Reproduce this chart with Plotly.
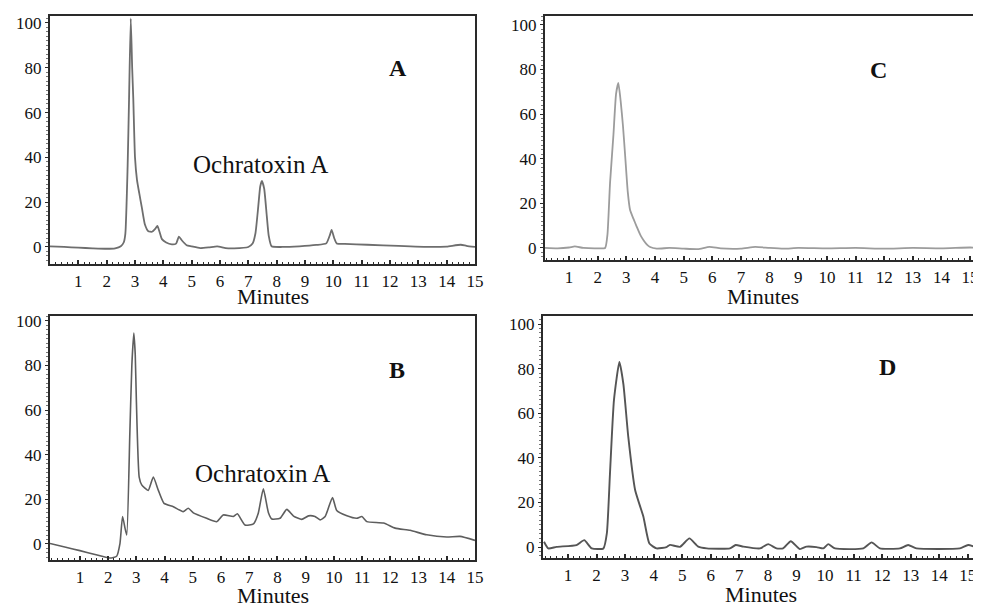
import plotly.graph_objects as go

# ---------------- data (retention time in minutes, relative response %) ----------------
a_time = [0, 0.5, 1.0, 1.5, 2.0, 2.3, 2.5, 2.6, 2.66, 2.74, 2.79, 2.85, 2.9, 2.94, 3.0, 3.07,
          3.15, 3.25, 3.35, 3.47, 3.6, 3.72, 3.79, 3.86, 3.95, 4.1, 4.3, 4.45, 4.55, 4.65,
          4.82, 5.0, 5.3, 5.6, 5.9, 6.2, 6.5, 7.0, 7.15, 7.25, 7.35, 7.42, 7.48, 7.56, 7.65,
          7.72, 7.82, 8.2, 8.8, 9.4, 9.75, 9.87, 9.94, 10.03, 10.12, 10.4, 11.2, 12.3, 13.5,
          14.0, 14.5, 14.7, 15.0]
a_signal = [0.3, 0.0, -0.3, -0.6, -0.8, -0.6, 0.3, 2, 6, 36, 66, 102, 80, 66, 40, 30,
            24, 17, 10, 7, 6.8, 8.2, 9.4, 7, 3.5, 2, 1.2, 1.5, 4.6, 3,
            0.8, 0.3, -0.5, -0.2, 0.3, -0.5, -0.6, 0, 1.5, 6, 18, 27, 29.5, 26, 14,
            5, 0.3, 0, 0.3, 0.9, 1.6, 5, 7.6, 4, 1.6, 1.4, 1.0, 0.5, 0,
            0.2, 1.0, 0.5, 0]

b_time = [-0.06, 0.5, 1.0, 1.5, 2.06, 2.3, 2.42, 2.51, 2.6, 2.66, 2.77, 2.84, 2.91, 2.96, 3.0,
          3.1, 3.19, 3.42, 3.6, 3.78, 3.98, 4.31, 4.66, 4.84, 5.02, 5.49, 5.85, 6.08, 6.44,
          6.58, 6.85, 7.15, 7.32, 7.5, 7.68, 7.8, 8.09, 8.33, 8.57, 8.86, 9.1, 9.33, 9.51,
          9.69, 9.95, 10.1, 10.46, 10.81, 10.99, 11.17, 11.76, 12.17, 12.7, 13.29, 14.0,
          14.47, 15.0]
b_signal = [0.2, -1.5, -3.0, -4.6, -6.3, -5.5, 0.3, 12.3, 7, 4, 50, 80, 94.5, 85, 64.6,
            30, 26.5, 24, 30, 24, 18.2, 16.7, 14.5, 16, 13.9, 11.5, 10, 13, 12.3,
            13.5, 8.5, 9, 13.8, 24.7, 14, 11.2, 11.5, 15.5, 12.5, 11, 12.6, 12.3, 10.8,
            12.3, 20.8, 15, 12.6, 11.5, 12.3, 10, 9.4, 7.1, 6.1, 4.1, 3.1,
            3.4, 1.6]

c_time = [0.16, 0.6, 1.0, 1.2, 1.5, 2.0, 2.26, 2.34, 2.43, 2.55, 2.64, 2.72, 2.8, 2.88, 2.96,
          3.05, 3.13, 3.25, 3.36, 3.5, 3.6, 3.72, 3.83, 4.06, 4.5, 5.0, 5.5, 5.9, 6.3, 7.0,
          7.5, 8.0, 8.5, 9.0, 10.0, 11.0, 12.0, 13.0, 14.0, 15.0, 15.4]
c_signal = [0, -0.2, 0.2, 0.7, 0, -0.2, 0, 6, 29, 51, 69, 74, 66, 55, 41,
            25, 17, 13, 9.6, 5.5, 3.5, 1.5, 0.4, -0.3, 0, -0.3, -0.5, 0.5, -0.2, -0.3,
            0.5, 0, -0.3, 0, -0.2, 0, -0.3, 0, -0.2, 0.2, 0]

d_time = [0.16, 0.31, 0.6, 1.3, 1.57, 1.83, 2.24, 2.36, 2.47, 2.61, 2.8, 2.94, 3.11, 3.35,
          3.64, 3.85, 4.1, 4.45, 4.57, 4.92, 5.25, 5.56, 5.86, 6.67, 6.87, 7.14, 7.72, 8.01,
          8.3, 8.53, 8.8, 9.12, 9.35, 9.7, 9.94, 10.11, 10.35, 11.34, 11.63, 11.92, 12.62,
          12.91, 13.2, 14.72, 15.01, 15.4]
d_signal = [2.4, -0.6, 0.1, 0.9, 3.1, -0.6, -0.6, 6.1, 33, 66, 83, 73, 49.5, 25.6,
            13.6, 1.6, -0.6, 0, 1, 0.1, 3.9, 0.2, -0.6, -0.6, 0.9, 0.2, -0.6, 1.3,
            -0.6, -0.6, 2.6, -0.9, 0.2, 0, -0.6, 1.3, -0.6, -0.6, 2.1, -0.6, -0.6,
            0.9, -0.6, -0.6, 0.9, -0.6]

minute_ticks = list(range(1, 16))
response_ticks = [0, 20, 40, 60, 80, 100]
panel_names = ["A", "B", "C", "D"]
peak_label = "Ochratoxin A"
x_title = "Minutes"

# ---------------- figure ----------------
# the page body has an 8 px margin, so the figure is placed 8 px in from the window corner
OFF = 8
W, H = 981 - OFF, 606 - OFF
SERIF = "Liberation Serif, Times New Roman, serif"
AX = "#2a2a2a"

def px_x(p):
    return (p - OFF) / W

def px_y(p):
    return 1 - (p - OFF) / H

panels = [
    # name, time, signal, axis suffix, x-domain px, y-domain px (top,bottom), x-range, y-range, color, width, mirror-right
    ("A", a_time, a_signal, "", (50, 475), (16, 264), [0, 15], [-7.6, 103.1], "#6e6e6e", 1.8, True),
    ("B", b_time, b_signal, "2", (50, 475), (316, 560), [-0.06, 15], [-7.2, 102.2], "#5e5e5e", 1.6, True),
    ("C", c_time, c_signal, "3", (545, 981), (16, 260), [0.16, 15.38], [-5.4, 104.0], "#9c9c9c", 1.8, False),
    ("D", d_time, d_signal, "4", (543, 981), (316, 558), [0.125, 15.46], [-4.9, 103.6], "#555555", 1.9, False),
]

fig = go.Figure()
layout = dict(
    width=W, height=H,
    margin=dict(l=0, r=0, t=0, b=0, pad=0),
    paper_bgcolor="white", plot_bgcolor="white",
    showlegend=False,
    font=dict(family=SERIF, color="#111111"),
)

for name, t, s, sfx, xd, yd, xr, yr, col, lw, mir in panels:
    fig.add_trace(go.Scatter(
        x=t, y=s, mode="lines", name=name,
        line=dict(color=col, width=lw, shape="spline", smoothing=0.5),
        xaxis="x" + sfx, yaxis="y" + sfx, hoverinfo="skip",
    ))
    layout["xaxis" + sfx] = dict(
        domain=[max(0, px_x(xd[0])), min(1, px_x(xd[1]))], range=xr, anchor="y" + sfx,
        tickmode="array", tickvals=minute_ticks, ticktext=[str(v) for v in minute_ticks],
        ticks="inside", ticklen=4, tickwidth=1.5, tickcolor=AX,
        minor=dict(ticks="inside", ticklen=2, tick0=0, dtick=0.2, tickcolor=AX, tickwidth=1),
        showline=True, linecolor=AX, linewidth=2.2, mirror=True,
        showgrid=False, zeroline=False, automargin=False,
        tickfont=dict(family=SERIF, size=17, color="#111111"),
        fixedrange=True,
    )
    layout["yaxis" + sfx] = dict(
        domain=[px_y(yd[1]), px_y(yd[0])], range=yr, anchor="x" + sfx,
        tickmode="array", tickvals=response_ticks,
        ticks="outside", ticklen=3, tickwidth=1, tickcolor=AX,
        minor=dict(ticks="outside", ticklen=2, tick0=0, dtick=2, tickcolor="#777777", tickwidth=1),
        showline=True, linecolor=AX, linewidth=2, mirror=mir,
        showgrid=False, zeroline=False, automargin=False,
        tickfont=dict(family=SERIF, size=17, color="#111111"),
        fixedrange=True,
    )

annotations = []
# panel letters
letter_pos = {"A": (398, 68), "B": (397, 370), "C": (878, 70), "D": (887, 367)}
for nm in panel_names:
    px, py = letter_pos[nm]
    annotations.append(dict(text="<b>%s</b>" % nm, x=px_x(px), y=px_y(py), xref="paper", yref="paper",
                            showarrow=False, xanchor="center", yanchor="middle",
                            font=dict(family=SERIF, size=24, color="#111111")))
# peak labels
for px, py in [(260, 165), (262, 473)]:
    annotations.append(dict(text=peak_label, x=px_x(px), y=px_y(py), xref="paper", yref="paper",
                            showarrow=False, xanchor="center", yanchor="middle",
                            font=dict(family=SERIF, size=25, color="#111111")))
# axis titles
for px, py in [(273, 296), (763, 296), (273, 595), (761, 594)]:
    annotations.append(dict(text=x_title, x=px_x(px), y=px_y(py), xref="paper", yref="paper",
                            showarrow=False, xanchor="center", yanchor="middle",
                            font=dict(family=SERIF, size=22, color="#111111")))

layout["annotations"] = annotations
fig.update_layout(**layout)
fig.write_html("out.html")
